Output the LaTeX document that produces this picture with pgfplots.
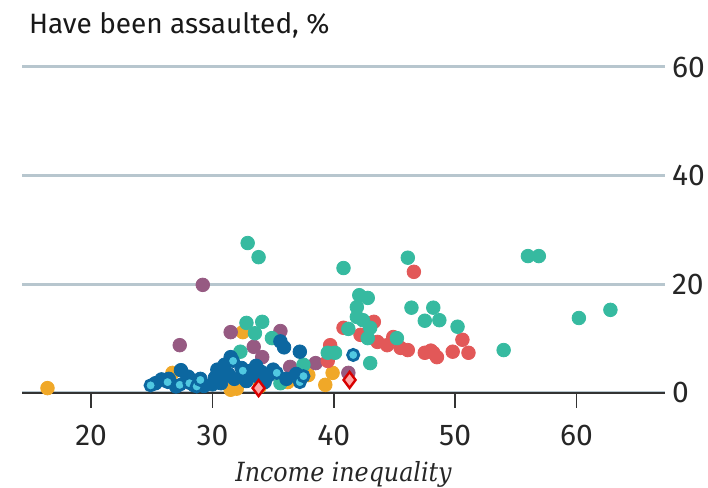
\documentclass[border=0pt]{standalone}
\usepackage{fontspec}
\setmainfont{Fira Sans}
\newfontfamily\xlfont{DejaVu Serif Condensed}
\usepackage{pgfplots}
\pgfplotsset{compat=1.18}

\definecolor{cteal}{HTML}{36BAA0}
\definecolor{cred}{HTML}{E25858}
\definecolor{cpurple}{HTML}{965A82}
\definecolor{corange}{HTML}{F0A828}
\definecolor{cblue}{HTML}{0C67A0}
\definecolor{ccyan}{HTML}{50C8E1}
\definecolor{gridcol}{HTML}{B7C6CE}
\definecolor{axisgray}{HTML}{333333}

\pgfplotstableread{
x y
16.4 0.9
26.7 3.7
31.5 0.6
32.0 0.8
32.5 11.2
33.9 1.2
36.2 2.0
37.9 3.3
39.3 1.5
39.9 3.7
}\orange

\pgfplotstableread{
x y
29.2 19.9
27.3 8.8
31.5 11.2
33.4 8.5
34.1 6.6
35.6 11.4
36.4 4.8
38.5 5.5
41.2 3.7
}\purple

\pgfplotstableread{
x y
46.6 22.3
40.8 12.0
43.3 13.1
42.2 10.7
43.6 9.4
44.4 8.8
44.9 10.3
45.5 8.3
46.1 7.9
47.5 7.4
48.0 7.8
48.2 7.4
48.5 6.6
49.8 7.6
50.6 9.8
51.1 7.4
39.7 8.8
39.5 5.9
}\red

\pgfplotstableread{
x y
32.9 27.6
33.8 25.0
46.1 24.9
40.8 23.0
56.0 25.2
56.9 25.2
60.2 13.8
62.8 15.3
54.0 7.9
42.1 18.0
42.8 17.5
41.9 15.8
41.9 14.0
42.4 13.4
41.2 11.8
43.0 12.0
42.8 10.1
45.2 10.1
43.0 5.5
46.4 15.7
48.2 15.7
47.5 13.3
48.7 13.4
50.2 12.2
32.8 12.9
34.1 13.1
33.5 11.0
32.3 7.6
34.9 10.1
39.5 7.4
40.1 7.4
37.5 5.2
35.6 1.8
}\teal

\pgfplotstableread{
x y
25.3 1.8
25.8 2.5
26.4 2.6
27.0 1.2
27.4 4.2
27.9 2.4
28.0 3.0
28.5 1.4
29.0 2.6
29.3 1.3
30.0 1.6
30.2 2.8
30.4 4.3
30.7 1.8
31.0 5.2
31.0 3.2
31.5 6.6
31.3 3.5
31.8 2.6
32.4 4.6
32.8 2.2
33.0 4.0
33.5 3.2
33.6 5.0
34.0 3.9
34.3 2.0
34.6 3.2
35.0 4.3
35.6 9.5
35.9 8.4
37.2 7.6
36.1 2.6
36.9 3.5
}\blue

\pgfplotstableread{
x y
24.9 1.4
26.3 2.0
27.3 1.5
28.1 1.8
28.7 1.2
29.0 2.4
31.7 5.9
32.5 4.1
35.3 3.7
37.2 2.0
37.5 3.1
41.6 7.0
}\cyan

\pgfplotstableread{
x y
33.8 0.9
41.3 2.4
}\diam

\begin{document}
\begin{tikzpicture}
\begin{axis}[
  scale only axis, width=321.5pt, height=163pt,
  xmin=14.3, xmax=67.3, ymin=0, ymax=60,
  axis x line*=bottom, axis y line*=right,
  y axis line style={draw=none},
  x axis line style={draw=axisgray, line width=1pt, -},
  xtick={20,30,40,50,60}, ytick={0,20,40,60},
  tick align=outside, major tick length=7.5pt,
  xtick style={draw=axisgray, line width=0.9pt},
  ytick style={draw=none},
  ymajorgrids, grid style={gridcol, line width=1.5pt},
  ticklabel style={font=\fontsize{15}{15}\selectfont, text=black!85},
  /pgf/number format/assume math mode=true,
  xticklabel style={anchor=base, yshift=-19pt},
  yticklabel style={xshift=-7.5pt},
  xlabel={\xlfont\itshape Income inequality},
  xlabel style={at={(axis description cs:0.5,0)}, anchor=base, yshift=-44.5pt,
    font=\fontsize{13.2}{13.2}\selectfont, text=black!85},
  clip=false,
]
\node[anchor=base west, yshift=16.5pt, font=\fontsize{14}{14}\selectfont, text=black!90]
  at (rel axis cs:0,1) {Have been assaulted, \%};
\addplot[only marks, mark=*, mark size=3.4pt, corange] table {\orange};
\addplot[only marks, mark=*, mark size=3.4pt, cpurple] table {\purple};
\addplot[only marks, mark=*, mark size=3.4pt, cred] table {\red};
\addplot[only marks, mark=*, mark size=3.4pt, cteal] table {\teal};
\addplot[only marks, mark=*, mark size=3.4pt, cblue] table {\blue};
\addplot[only marks, mark=*, mark size=2.8pt, mark options={draw=cblue, line width=1.4pt, fill=ccyan}] table {\cyan};
\addplot[only marks, mark=diamond*, mark size=4pt, mark options={draw=red!85!black, line width=1.2pt, fill=red!35}] table {\diam};
\end{axis}
\pgfresetboundingbox
\path[use as bounding box] ([shift={(-11pt,-47.5pt)}]current axis.south west) rectangle ([shift={(21.5pt,33.5pt)}]current axis.north east);
\end{tikzpicture}
\end{document}
